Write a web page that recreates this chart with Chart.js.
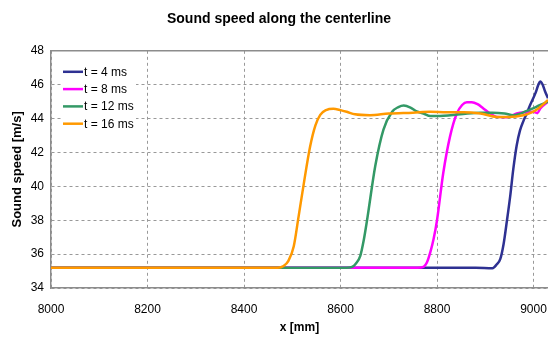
<!DOCTYPE html>
<html>
<head>
<meta charset="utf-8">
<script src="https://cdn.jsdelivr.net/npm/chart.js@4"></script>
<style>
  html, body { margin: 0; padding: 0; background: #fff; }
  #wrap { width: 548px; height: 340px; }
</style>
</head>
<body>
<div id="wrap"><canvas id="chart" width="548" height="340"></canvas></div>
<script>
// ----------------------------------------------------
// DATA
// ----------------------------------------------------
const seriesLabels = ["t = 4 ms", "t = 8 ms", "t = 12 ms", "t = 16 ms"];
const seriesColors = ["#2E3192", "#FF00FF", "#339966", "#FF9900"];

const xTicks = [8000, 8200, 8400, 8600, 8800, 9000];
const yTicks = [34, 36, 38, 40, 42, 44, 46, 48];

// t = 4 ms
const x4 = [8000, 8880, 8915, 8924, 8931, 8938, 8945, 8952, 8958, 8965, 8972, 8979, 8986, 8993, 9004, 9010, 9014, 9019, 9024, 9030];
const y4 = [35.2, 35.2, 35.17, 35.4, 35.7, 36.6, 38.0, 39.5, 41.0, 42.4, 43.3, 43.85, 44.3, 44.8, 45.5, 46.0, 46.19, 46.0, 45.6, 45.2];

// t = 8 ms
const x8 = [8000, 8760, 8772, 8779, 8786, 8793, 8800, 8813, 8827, 8841, 8852, 8862, 8872, 8884, 8896, 8910, 8924, 8945, 8965, 8986, 9000, 9008, 9014, 9030];
const y8 = [35.2, 35.2, 35.25, 35.5, 36.1, 36.9, 38.0, 40.8, 42.95, 44.3, 44.8, 44.97, 44.97, 44.85, 44.6, 44.3, 44.1, 44.08, 44.3, 44.38, 44.4, 44.32, 44.6, 45.0];

// t = 12 ms
const x12 = [8000, 8612, 8624, 8632, 8641, 8648, 8655, 8672, 8689, 8707, 8720, 8731, 8745, 8758, 8772, 8786, 8800, 8848, 8890, 8915, 8940, 8958, 8986, 9014, 9030];
const y12 = [35.2, 35.2, 35.25, 35.45, 35.9, 36.8, 38.0, 41.2, 43.35, 44.4, 44.68, 44.77, 44.65, 44.42, 44.3, 44.15, 44.15, 44.25, 44.35, 44.35, 44.3, 44.2, 44.45, 44.8, 45.0];

// t = 16 ms
const x16 = [8000, 8470, 8482, 8492, 8503, 8513, 8523, 8537, 8548, 8558, 8570, 8585, 8600, 8613, 8630, 8661, 8700, 8750, 8786, 8820, 8855, 8890, 8924, 8950, 8979, 8995, 9010, 9030];
const y16 = [35.2, 35.2, 35.3, 35.6, 36.45, 38.2, 40.0, 42.35, 43.6, 44.22, 44.5, 44.58, 44.5, 44.4, 44.25, 44.2, 44.3, 44.35, 44.4, 44.38, 44.38, 44.3, 44.1, 44.1, 44.2, 44.35, 44.6, 45.1];

const seriesX = [x4, x8, x12, x16];
const seriesY = [y4, y8, y12, y16];

// ----------------------------------------------------
// PLUGINS
// ----------------------------------------------------
// white background + solid top edge of the plot (right edge is cut off in the original)
const framePlugin = {
    id: "frame",
    beforeDraw(chart) {
        const { ctx } = chart;
        ctx.save();
        ctx.fillStyle = "#fff";
        ctx.fillRect(0, 0, chart.width, chart.height);
        ctx.restore();
    },
    afterDatasetsDraw(chart) {
        const { ctx, chartArea: a } = chart;
        ctx.save();
        ctx.strokeStyle = "#8C8C8C";
        ctx.lineWidth = 1.5;
        ctx.beginPath();
        ctx.moveTo(a.left, a.top);
        ctx.lineTo(a.right + 2, a.top);
        ctx.stroke();
        ctx.restore();
    }
};

// legend box drawn inside the plot, top-left, like the Excel original
const insideLegendPlugin = {
    id: "insideLegend",
    afterDatasetsDraw(chart) {
        const { ctx, chartArea: a } = chart;
        const x0 = a.left + 12;
        const y0 = a.top + 21;
        const rowH = 17.3;

        ctx.save();
        ctx.fillStyle = "#fff";
        ctx.fillRect(x0 - 1, y0 - 10, 74, rowH * seriesLabels.length + 3);

        ctx.font = "12px 'Liberation Sans', Arial, sans-serif";
        ctx.textBaseline = "middle";
        ctx.textAlign = "left";

        seriesLabels.forEach((lbl, i) => {
            const y = y0 + i * rowH;
            ctx.strokeStyle = seriesColors[i];
            ctx.lineWidth = 2.5;
            ctx.beginPath();
            ctx.moveTo(x0, y);
            ctx.lineTo(x0 + 20, y);
            ctx.stroke();
            ctx.fillStyle = "#000";
            ctx.fillText(lbl, x0 + 21, y + 0.5);
        });
        ctx.restore();
    }
};

// ----------------------------------------------------
// CHART
// ----------------------------------------------------
const datasets = seriesLabels.map((lbl, i) => ({
    label: lbl,
    data: seriesX[i].map((x, j) => ({ x, y: seriesY[i][j] })),
    borderColor: seriesColors[i],
    backgroundColor: seriesColors[i],
    borderWidth: 2.5,
    pointRadius: 0,
    cubicInterpolationMode: "monotone",
    fill: false,
    order: seriesLabels.length - i
}));

const FONT = "'Liberation Sans', Arial, sans-serif";

new Chart(document.getElementById("chart"), {
    type: "line",
    data: { datasets },
    options: {
        responsive: false,
        animation: false,
        devicePixelRatio: 1,
        layout: { padding: { left: 10, right: 0, top: 0, bottom: 0 } },
        plugins: {
            legend: { display: false },
            tooltip: { enabled: false },
            title: {
                display: true,
                text: "Sound speed along the centerline",
                color: "#000",
                font: { family: FONT, size: 14, weight: "bold" },
                padding: { top: 11, bottom: 23 }
            }
        },
        scales: {
            x: {
                type: "linear",
                min: 8000,
                max: 9030,
                afterBuildTicks(scale) {
                    scale.ticks = xTicks.map(v => ({ value: v }));
                },
                afterFit(scale) {
                    scale.height = 52;
                    scale.paddingRight = 0;
                },
                ticks: {
                    color: "#000",
                    font: { family: FONT, size: 12 },
                    padding: 14,
                    maxRotation: 0,
                    autoSkip: false,
                    callback: v => String(v)
                },
                grid: { color: "#999", lineWidth: 1, drawTicks: false },
                border: { display: true, color: "#8C8C8C", width: 1.5, dash: [3, 3] },
                title: {
                    display: true,
                    text: "x [mm]",
                    color: "#000",
                    font: { family: FONT, size: 12, weight: "bold" },
                    padding: { top: 0, bottom: 5 }
                }
            },
            y: {
                min: 34,
                max: 48,
                afterBuildTicks(scale) {
                    scale.ticks = yTicks.map(v => ({ value: v }));
                },
                afterFit(scale) { scale.width = 41; },
                ticks: {
                    color: "#000",
                    font: { family: FONT, size: 12 },
                    padding: 7,
                    callback: v => String(v)
                },
                grid: { color: "#999", lineWidth: 1, drawTicks: false },
                border: { display: true, color: "#8C8C8C", width: 1.5, dash: [3, 3] },
                title: {
                    display: true,
                    text: "Sound speed [m/s]",
                    color: "#000",
                    font: { family: FONT, size: 13, weight: "bold" },
                    padding: { top: 0, bottom: 0 }
                }
            }
        }
    },
    plugins: [framePlugin, insideLegendPlugin]
});
</script>
</body>
</html>
